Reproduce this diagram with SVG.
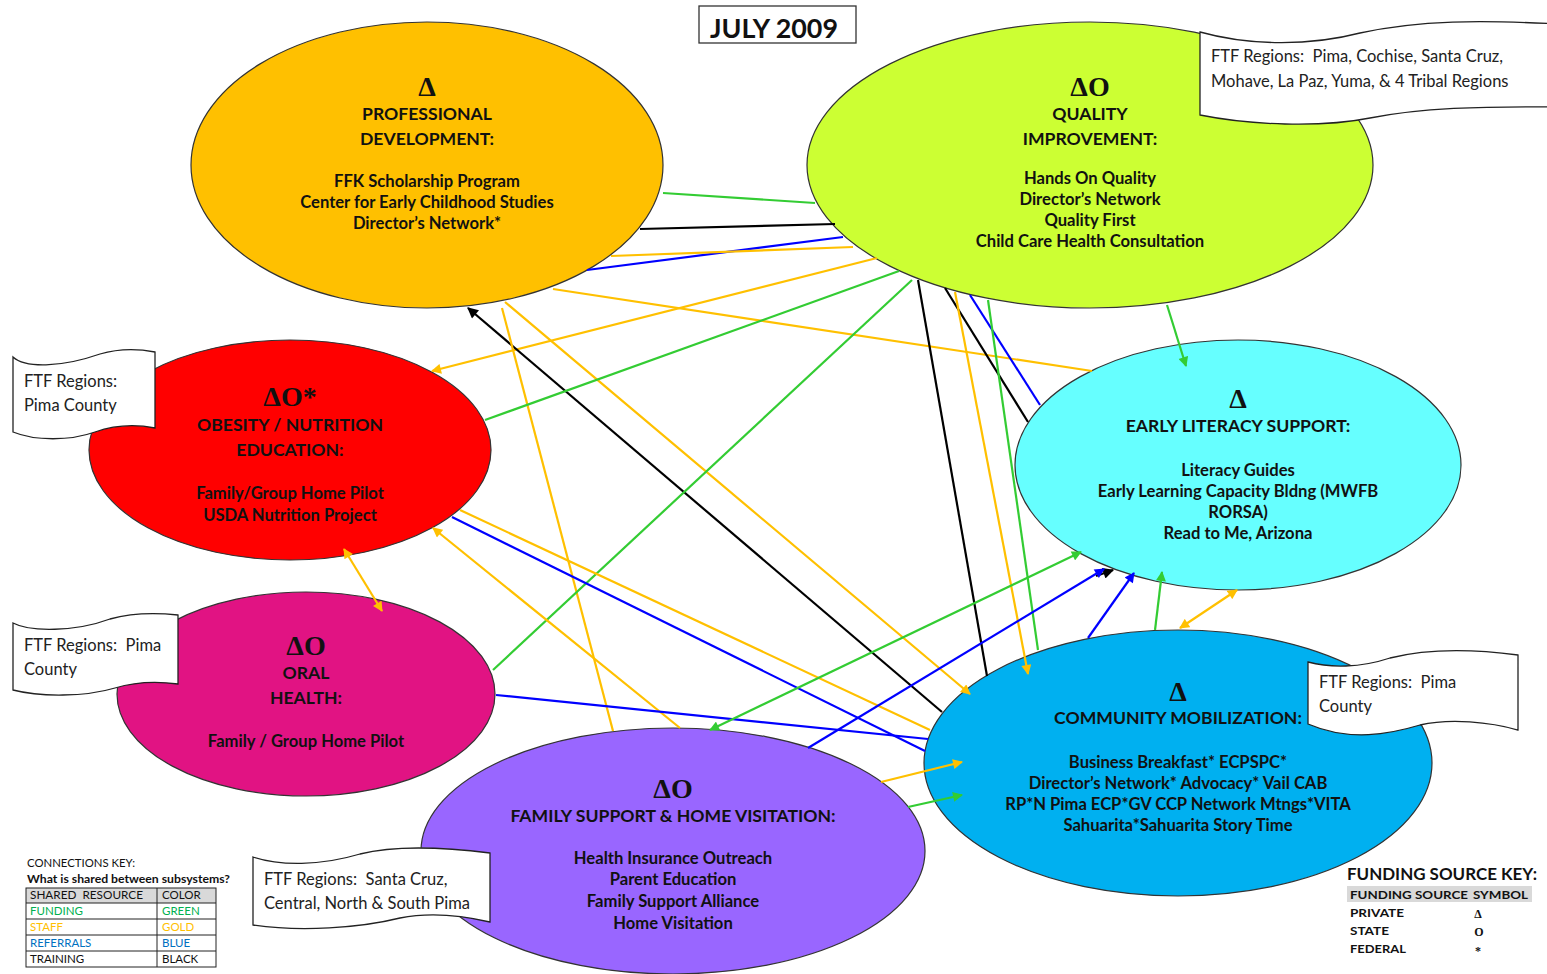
<svg xmlns="http://www.w3.org/2000/svg" width="1547" height="974" viewBox="0 0 1547 974">
<style>
.el{stroke:#333;stroke-width:1.2}
.h{font-family:Lato,"Liberation Sans",sans-serif;font-weight:bold;font-size:17.6px;fill:#111;text-anchor:middle}
.t{font-family:Lato,"Liberation Sans",sans-serif;font-weight:bold;font-size:16.6px;fill:#111;text-anchor:middle}
.s{font-family:"Liberation Serif",serif;font-weight:bold;font-size:28px;fill:#111;text-anchor:middle}
.co{fill:#fff;stroke:#222;stroke-width:1.3}
.ct{font-family:Lato,"Liberation Sans",sans-serif;font-size:16.5px;fill:#222}
.c line{stroke-width:2.2;fill:none}
.g{stroke:#33CC33}
.y{stroke:#FFC000}
.b{stroke:#0000FF}
.k{stroke:#000}
.kt{font-family:Lato,"Liberation Sans",sans-serif;font-size:11.5px;fill:#111}
.kb{font-family:Lato,"Liberation Sans",sans-serif;font-size:12px;font-weight:bold;fill:#111}
</style>
<defs>
<marker id="mg" viewBox="0 0 10 10" refX="9" refY="5" markerWidth="11" markerHeight="10" markerUnits="userSpaceOnUse" orient="auto-start-reverse"><path d="M0,0 L10,5 L0,10 z" fill="#33CC33"/></marker>
<marker id="my" viewBox="0 0 10 10" refX="9" refY="5" markerWidth="11" markerHeight="10" markerUnits="userSpaceOnUse" orient="auto-start-reverse"><path d="M0,0 L10,5 L0,10 z" fill="#FFC000"/></marker>
<marker id="mb" viewBox="0 0 10 10" refX="9" refY="5" markerWidth="11" markerHeight="10" markerUnits="userSpaceOnUse" orient="auto-start-reverse"><path d="M0,0 L10,5 L0,10 z" fill="#0000FF"/></marker>
<marker id="mk" viewBox="0 0 10 10" refX="9" refY="5" markerWidth="12" markerHeight="11" markerUnits="userSpaceOnUse" orient="auto-start-reverse"><path d="M0,0 L10,5 L0,10 z" fill="#000"/></marker>
</defs>
<rect width="1547" height="974" fill="#fff"/>

<g id="title">
<rect x="699" y="6" width="157" height="37" fill="#fff" stroke="#333" stroke-width="1.3"/>
<text x="774" y="38" font-family="Lato,'Liberation Sans',sans-serif" font-weight="bold" font-size="26" fill="#111" text-anchor="middle" textLength="128" lengthAdjust="spacingAndGlyphs">JULY 2009</text>
</g>

<g id="shapes">
<ellipse id="pd-shape" class="el" cx="427" cy="165" rx="236" ry="143" fill="#FFC000"/>
<ellipse id="qi-shape" class="el" cx="1090" cy="165" rx="283" ry="143" fill="#CCFF33"/>
<ellipse id="ob-shape" class="el" cx="290" cy="450" rx="201" ry="110" fill="#FF0000"/>
<ellipse id="oh-shape" class="el" cx="306" cy="694" rx="189" ry="102" fill="#E11383"/>
<ellipse id="el-shape" class="el" cx="1238" cy="465" rx="223" ry="125" fill="#66FFFF"/>
<ellipse id="cm-shape" class="el" cx="1178" cy="763" rx="254" ry="133" fill="#00B0F0"/>
<ellipse id="fs-shape" class="el" cx="673" cy="851" rx="252" ry="123" fill="#9966FF"/>
</g>

<g id="connectors" class="c">
<line class="g" x1="663" y1="193" x2="815" y2="203"/>
<line class="k" x1="640" y1="229" x2="835" y2="224"/>
<line class="b" x1="587" y1="270" x2="843" y2="237"/>
<line class="y" x1="611" y1="256" x2="853" y2="247"/>
<line class="y" x1="877" y1="258" x2="432" y2="371" marker-end="url(#my)"/>
<line class="y" x1="553" y1="289" x2="1092" y2="371"/>
<line class="k" x1="942" y1="712" x2="468" y2="308" marker-end="url(#mk)"/>
<line class="y" x1="502" y1="308" x2="613" y2="731"/>
<line class="y" x1="505" y1="302" x2="970" y2="694" marker-end="url(#my)"/>
<line class="g" x1="485" y1="420" x2="899" y2="271"/>
<line class="g" x1="493" y1="670" x2="912" y2="280"/>
<line class="k" x1="918" y1="280" x2="987" y2="676"/>
<line class="k" x1="945" y1="288" x2="1028" y2="422"/>
<line class="y" x1="955" y1="292" x2="1028" y2="674" marker-end="url(#my)"/>
<line class="b" x1="970" y1="295" x2="1040" y2="405"/>
<line class="g" x1="988" y1="300" x2="1038" y2="650"/>
<line class="g" x1="1167" y1="305" x2="1186" y2="366" marker-end="url(#mg)"/>
<line class="y" x1="344" y1="549" x2="382" y2="611" marker-start="url(#my)" marker-end="url(#my)"/>
<line class="b" x1="452" y1="517" x2="925" y2="751"/>
<line class="y" x1="460" y1="510" x2="930" y2="730"/>
<line class="y" x1="680" y1="728" x2="433" y2="528" marker-end="url(#my)"/>
<line class="b" x1="496" y1="695" x2="928" y2="739"/>
<line class="g" x1="710" y1="730" x2="1081" y2="552" marker-start="url(#mg)" marker-end="url(#mg)"/>
<line class="k" x1="1096" y1="576" x2="1113" y2="570" marker-end="url(#mk)"/>
<line class="b" x1="808" y1="748" x2="1104" y2="569" marker-end="url(#mb)"/>
<line class="y" x1="881" y1="782" x2="962" y2="762" marker-end="url(#my)"/>
<line class="g" x1="908" y1="807" x2="962" y2="795" marker-end="url(#mg)"/>
<line class="b" x1="1088" y1="638" x2="1134" y2="573" marker-end="url(#mb)"/>
<line class="g" x1="1155" y1="630" x2="1162" y2="572" marker-end="url(#mg)"/>
<line class="y" x1="1180" y1="628" x2="1237" y2="590" marker-start="url(#my)" marker-end="url(#my)"/>
</g>

<g id="pd">
<text class="s" x="427" y="96">Δ</text>
<text class="h" x="427" y="120">PROFESSIONAL</text>
<text class="h" x="427" y="145">DEVELOPMENT:</text>
<text class="t" x="427" y="187">FFK Scholarship Program</text>
<text class="t" x="427" y="208">Center for Early Childhood Studies</text>
<text class="t" x="427" y="229">Director’s Network*</text>
</g>

<g id="qi">
<text class="s" x="1090" y="96">ΔO</text>
<text class="h" x="1090" y="120">QUALITY</text>
<text class="h" x="1090" y="145">IMPROVEMENT:</text>
<text class="t" x="1090" y="184">Hands On Quality</text>
<text class="t" x="1090" y="205">Director’s Network</text>
<text class="t" x="1090" y="226">Quality First</text>
<text class="t" x="1090" y="247">Child Care Health Consultation</text>
</g>

<g id="ob">
<text class="s" x="290" y="406">ΔO*</text>
<text class="h" x="290" y="431">OBESITY / NUTRITION</text>
<text class="h" x="290" y="456">EDUCATION:</text>
<text class="t" x="290" y="499">Family/Group Home Pilot</text>
<text class="t" x="290" y="521">USDA Nutrition Project</text>
</g>

<g id="oh">
<text class="s" x="306" y="655">ΔO</text>
<text class="h" x="306" y="679">ORAL</text>
<text class="h" x="306" y="704">HEALTH:</text>
<text class="t" x="306" y="747">Family / Group Home Pilot</text>
</g>

<g id="el">
<text class="s" x="1238" y="408">Δ</text>
<text class="h" x="1238" y="432">EARLY LITERACY SUPPORT:</text>
<text class="t" x="1238" y="476">Literacy Guides</text>
<text class="t" x="1238" y="497">Early Learning Capacity Bldng (MWFB</text>
<text class="t" x="1238" y="518">RORSA)</text>
<text class="t" x="1238" y="539">Read to Me, Arizona</text>
</g>

<g id="cm">
<text class="s" x="1178" y="701">Δ</text>
<text class="h" x="1178" y="724">COMMUNITY MOBILIZATION:</text>
<text class="t" x="1178" y="768">Business Breakfast* ECPSPC*</text>
<text class="t" x="1178" y="789">Director’s Network* Advocacy* Vail CAB</text>
<text class="t" x="1178" y="810">RP*N Pima ECP*GV CCP Network Mtngs*VITA</text>
<text class="t" x="1178" y="831">Sahuarita*Sahuarita Story Time</text>
</g>

<g id="fs">
<text class="s" x="673" y="798">ΔO</text>
<text class="h" x="673" y="822">FAMILY SUPPORT &amp; HOME VISITATION:</text>
<text class="t" x="673" y="864">Health Insurance Outreach</text>
<text class="t" x="673" y="885">Parent Education</text>
<text class="t" x="673" y="907">Family Support Alliance</text>
<text class="t" x="673" y="929">Home Visitation</text>
</g>

<g id="callout-qi">
<path class="co" d="M1200,32 C1250,46 1310,46 1360,33 C1420,20 1480,20 1560,24 L1560,107 C1480,106 1420,108 1370,118 C1320,128 1250,125 1200,115 Z"/>
<text class="ct" x="1211" y="62" xml:space="preserve">FTF Regions:  Pima, Cochise, Santa Cruz,</text>
<text class="ct" x="1211" y="87">Mohave, La Paz, Yuma, &amp; 4 Tribal Regions</text>
</g>
<g id="callout-ob">
<path class="co" d="M13,357 C25,368 60,368 100,354 C120,348 140,349 155,352 L155,428 C135,424 115,425 95,432 C70,441 35,441 13,432 Z"/>
<text class="ct" x="24" y="387">FTF Regions:</text>
<text class="ct" x="24" y="411">Pima County</text>
</g>
<g id="callout-oh">
<path class="co" d="M13,623 C30,632 75,632 110,619 C135,612 160,613 178,615 L178,684 C155,681 135,682 115,688 C85,697 40,697 13,690 Z"/>
<text class="ct" x="24" y="651" xml:space="preserve">FTF Regions:  Pima</text>
<text class="ct" x="24" y="675">County</text>
</g>
<g id="callout-fs">
<path class="co" d="M253,857 C280,866 320,866 360,854 C400,844 450,848 490,853 L490,922 C460,915 430,912 400,918 C360,928 300,932 253,925 Z"/>
<text class="ct" x="264" y="885" xml:space="preserve">FTF Regions:  Santa Cruz,</text>
<text class="ct" x="264" y="909">Central, North &amp; South Pima</text>
</g>
<g id="callout-cm">
<path class="co" d="M1308,662 C1330,668 1360,668 1390,658 C1430,648 1480,650 1518,655 L1518,730 C1490,722 1450,718 1420,725 C1390,734 1350,742 1308,724 Z"/>
<text class="ct" x="1319" y="688" xml:space="preserve">FTF Regions:  Pima</text>
<text class="ct" x="1319" y="712">County</text>
</g>

<g id="connections-key">
<text class="kt" x="27" y="867" textLength="108" lengthAdjust="spacingAndGlyphs">CONNECTIONS  KEY:</text>
<text class="kb" x="27" y="883" textLength="203" lengthAdjust="spacingAndGlyphs">What is shared between subsystems?</text>
<rect x="26" y="888" width="190" height="15" fill="#D9D9D9"/>
<g fill="none" stroke="#222" stroke-width="1">
<rect x="26" y="888" width="190" height="79"/>
<line x1="157" y1="888" x2="157" y2="967"/>
<line x1="26" y1="903" x2="216" y2="903"/>
<line x1="26" y1="919" x2="216" y2="919"/>
<line x1="26" y1="935" x2="216" y2="935"/>
<line x1="26" y1="951" x2="216" y2="951"/>
</g>
<text class="kt" x="30" y="899" textLength="113" lengthAdjust="spacingAndGlyphs" xml:space="preserve">SHARED  RESOURCE</text>
<text class="kt" x="162" y="899">COLOR</text>
<text class="kt" x="30" y="915" style="fill:#00B050">FUNDING</text>
<text class="kt" x="162" y="915" style="fill:#00B050">GREEN</text>
<text class="kt" x="30" y="931" style="fill:#FFC000">STAFF</text>
<text class="kt" x="162" y="931" style="fill:#FFC000">GOLD</text>
<text class="kt" x="30" y="947" style="fill:#0070C0">REFERRALS</text>
<text class="kt" x="162" y="947" style="fill:#0070C0">BLUE</text>
<text class="kt" x="30" y="963">TRAINING</text>
<text class="kt" x="162" y="963">BLACK</text>
</g>

<g id="funding-key">
<text x="1347" y="880" font-family="Lato,'Liberation Sans',sans-serif" font-weight="bold" font-size="17" fill="#111" textLength="190" lengthAdjust="spacingAndGlyphs">FUNDING SOURCE KEY:</text>
<rect x="1347" y="886" width="185" height="16" fill="#D9D9D9"/>
<text class="kb" x="1350" y="899" textLength="118" lengthAdjust="spacingAndGlyphs">FUNDING SOURCE</text>
<text class="kb" x="1473" y="899" textLength="55" lengthAdjust="spacingAndGlyphs">SYMBOL</text>
<text class="kb" x="1350" y="917" textLength="54" lengthAdjust="spacingAndGlyphs">PRIVATE</text>
<text class="kb" x="1350" y="935" textLength="39" lengthAdjust="spacingAndGlyphs">STATE</text>
<text class="kb" x="1350" y="953" textLength="56" lengthAdjust="spacingAndGlyphs">FEDERAL</text>
<text x="1478" y="918" font-family="'Liberation Serif',serif" font-weight="bold" font-size="12" fill="#111" text-anchor="middle">Δ</text>
<text x="1479" y="936" font-family="'Liberation Serif',serif" font-weight="bold" font-size="12" fill="#111" text-anchor="middle">O</text>
<text x="1478" y="955" font-family="'Liberation Serif',serif" font-weight="bold" font-size="12" fill="#111" text-anchor="middle">*</text>
</g>
</svg>
